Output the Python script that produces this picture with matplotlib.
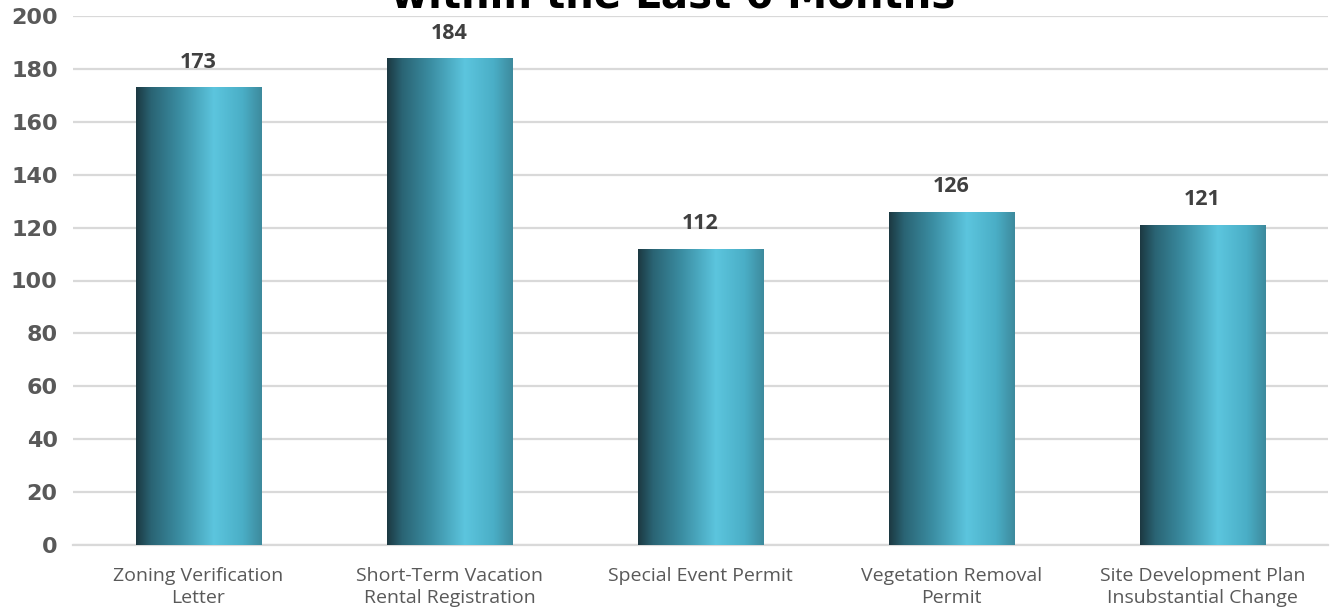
import numpy as np
import matplotlib
matplotlib.use("Agg")
import matplotlib.pyplot as plt
from matplotlib.colors import LinearSegmentedColormap

categories = ["Zoning Verification\nLetter",
              "Short-Term Vacation\nRental Registration",
              "Special Event Permit",
              "Vegetation Removal\nPermit",
              "Site Development Plan\nInsubstantial Change"]
counts = [173, 184, 112, 126, 121]
yticks = list(range(0, 201, 20))
title = "Most Common Applications Submitted\nwithin the Last 6 Months"

W, H = 1337, 614
fig = plt.figure(figsize=(W / 100, H / 100), dpi=100)
ax = fig.add_axes([73 / W, 69 / H, 1255 / W, 529 / H])

cmap = LinearSegmentedColormap.from_list("bar", [
    (0.00, "#1c3942"),
    (0.12, "#2a6474"),
    (0.35, "#3b8ea3"),
    (0.62, "#5cc5de"),
    (0.85, "#4aaec6"),
    (1.00, "#3d8a9d"),
])
grad = np.linspace(0, 1, 256).reshape(1, -1)

x = np.arange(len(counts))
bars = ax.bar(x, counts, width=0.5, color="none", zorder=3)
for b, v in zip(bars, counts):
    x0, w = b.get_x(), b.get_width()
    im = ax.imshow(grad, cmap=cmap, aspect="auto",
                   extent=[x0, x0 + w, 0, v], zorder=3)
    im.set_clip_path(b)
    ax.text(x0 + w / 2, v + 5.5, str(v), ha="center", va="bottom",
            fontsize=15.5, fontweight="bold", color="#404040", family="Open Sans")

ax.set_xlim(-0.5, len(counts) - 0.5)
ax.set_ylim(0, 200)
ax.set_yticks(yticks)
ax.set_xticks(x)
ax.set_xticklabels(categories, fontsize=14, color="#595959", family="Open Sans",
                   linespacing=1.3)
for t in ax.get_yticklabels():
    t.set_fontsize(16)
    t.set_fontweight("bold")
    t.set_color("#595959")
    t.set_family("DejaVu Sans")
ax.tick_params(axis="both", length=0)
ax.tick_params(axis="y", pad=11)
ax.tick_params(axis="x", pad=16)
ax.grid(axis="y", color="#d9d9d9", linewidth=1.6, zorder=0)
for s in ["top", "right", "left"]:
    ax.spines[s].set_visible(False)
ax.spines["bottom"].set_color("#d9d9d9")
ax.spines["bottom"].set_linewidth(1.6)

fig.text(673 / W, 1 - 8 / H, title, ha="center", va="baseline",
         fontsize=29, fontweight="bold", family="DejaVu Sans",
         color="#000000", linespacing=1.1)

fig.savefig("out.png", dpi=100)
